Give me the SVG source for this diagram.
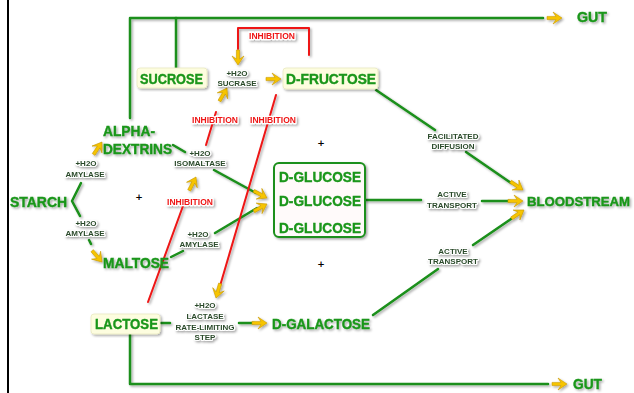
<svg xmlns="http://www.w3.org/2000/svg" xmlns:xlink="http://www.w3.org/1999/xlink" width="634" height="393" viewBox="0 0 634 393">
<style>
.g{fill:none;stroke:#1a8f1a;stroke-width:2.5;stroke-linecap:round;stroke-linejoin:round}
.r{fill:none;stroke:#ee1515;stroke-width:2;stroke-linecap:round;stroke-linejoin:round}
.big{font-family:"Liberation Sans",Arial,sans-serif;font-weight:bold;font-size:15px;fill:#1a961a;stroke:#1a961a;stroke-width:0.4}
.sm{font-family:"Liberation Sans",Arial,sans-serif;font-weight:bold;font-size:8px;fill:#2a4a2a;text-anchor:middle;stroke:#ffffff;stroke-width:2.2;paint-order:stroke;stroke-linejoin:round}
.inh{font-family:"Liberation Sans",Arial,sans-serif;font-weight:bold;font-size:8.5px;fill:#ee1515;text-anchor:middle;stroke:#ffffff;stroke-width:2.5;paint-order:stroke;stroke-linejoin:round}
.box{fill:#fdfddf;stroke:#e8e8c0;stroke-width:0.8}
.sh{filter:url(#shadow)}
.plus{font-family:"DejaVu Sans",sans-serif;font-weight:bold;font-size:9px;fill:#000;text-anchor:middle}
</style>
<defs>
<filter id="shadow" x="-20%" y="-20%" width="140%" height="140%">
<feDropShadow dx="1.5" dy="1.5" stdDeviation="0.8" flood-color="#000" flood-opacity="0.35"/>
</filter>
<path id="ya" d="M0,0 L-9,-6 L-6,-1.6 L-15,-1.6 L-15,1.6 L-6,1.6 L-9,6 Z" fill="#f6c400" stroke="#c99a00" stroke-width="0.6"/>
</defs>
<rect x="0" y="0" width="634" height="393" fill="#ffffff"/>
<line x1="8" y1="0" x2="8" y2="393" stroke="#000" stroke-width="2"/>

<g id="connectors" class="sh">
<polyline class="g" points="130,118 130,18 543,18"/>
<line class="g" x1="176" y1="18" x2="176" y2="68"/>
<polyline class="g" points="81,183 72,201 80,216"/>
<line class="g" x1="89" y1="240" x2="91" y2="244"/>
<line class="g" x1="173" y1="145" x2="185" y2="152"/>
<line class="g" x1="214" y1="170" x2="256" y2="193"/>
<line class="g" x1="171" y1="257" x2="183" y2="251"/>
<line class="g" x1="215" y1="233" x2="257" y2="208"/>
<line class="g" x1="365" y1="200" x2="421" y2="200"/>
<line class="g" x1="482" y1="201" x2="510" y2="201"/>
<line class="g" x1="376" y1="90" x2="435" y2="130"/>
<line class="g" x1="466" y1="152" x2="511" y2="183"/>
<line class="g" x1="373" y1="315" x2="438" y2="269"/>
<line class="g" x1="473" y1="245" x2="511" y2="219"/>
<line class="g" x1="161" y1="323" x2="170" y2="323"/>
<line class="g" x1="239" y1="323" x2="254" y2="323"/>
<polyline class="g" points="130,334 130,384 548,384"/>
<polyline class="r" points="238,49 238,28 309,28 309,55"/>
<line class="r" x1="148" y1="302" x2="183" y2="206"/>
<line class="r" x1="206" y1="145" x2="216" y2="112"/>
<line class="r" x1="276" y1="95" x2="220" y2="286"/>
<use href="#ya" transform="translate(562,18)"/>
<use href="#ya" transform="translate(567,384)"/>
<use href="#ya" transform="translate(238,65) rotate(90)"/>
<use href="#ya" transform="translate(281,79)"/>
<use href="#ya" transform="translate(102,142) rotate(-56)"/>
<use href="#ya" transform="translate(102,262) rotate(49)"/>
<use href="#ya" transform="translate(196,177) rotate(-63)"/>
<use href="#ya" transform="translate(227,88) rotate(-60)"/>
<use href="#ya" transform="translate(267,198) rotate(28)"/>
<use href="#ya" transform="translate(267,204) rotate(-29)"/>
<use href="#ya" transform="translate(216,298) rotate(106)"/>
<use href="#ya" transform="translate(267,323)"/>
<use href="#ya" transform="translate(523,201)"/>
<use href="#ya" transform="translate(523,190) rotate(34)"/>
<use href="#ya" transform="translate(524,210) rotate(-34)"/>
<text class="inh" x="272" y="39">INHIBITION</text>
<text class="inh" x="215" y="123">INHIBITION</text>
<text class="inh" x="273" y="123">INHIBITION</text>
<text class="inh" x="190" y="205">INHIBITION</text>
</g>

<g id="sucrose" class="sh">
<rect class="box" x="137" y="68" width="70" height="20" rx="3"/>
<text class="big" x="140" y="83.5" textLength="63" lengthAdjust="spacingAndGlyphs">SUCROSE</text>
</g>
<g id="d-fructose" class="sh">
<rect class="box" x="283" y="68" width="95" height="21" rx="3"/>
<text class="big" x="286" y="84" textLength="90" lengthAdjust="spacingAndGlyphs">D-FRUCTOSE</text>
</g>
<g id="alpha-dextrins" class="sh">
<text class="big" x="103" y="135.5" textLength="52" lengthAdjust="spacingAndGlyphs">ALPHA-</text>
<text class="big" x="103" y="153.5" textLength="69" lengthAdjust="spacingAndGlyphs">DEXTRINS</text>
</g>
<g id="starch" class="sh">
<text class="big" x="10" y="206.5" textLength="57" lengthAdjust="spacingAndGlyphs">STARCH</text>
</g>
<g id="maltose" class="sh">
<text class="big" x="103" y="267.5" textLength="66" lengthAdjust="spacingAndGlyphs">MALTOSE</text>
</g>
<g id="lactose" class="sh">
<rect class="box" x="91" y="314" width="69" height="20" rx="3"/>
<text class="big" x="95" y="329" textLength="63" lengthAdjust="spacingAndGlyphs">LACTOSE</text>
</g>
<g id="d-galactose" class="sh">
<text class="big" x="272" y="328.5" textLength="98" lengthAdjust="spacingAndGlyphs">D-GALACTOSE</text>
</g>
<g id="d-glucose" class="sh">
<rect x="274" y="163" width="91" height="74" rx="5" fill="#fffafa" stroke="#1a8f1a" stroke-width="2"/>
<text class="big" x="279" y="181.5" textLength="82" lengthAdjust="spacingAndGlyphs">D-GLUCOSE</text>
<text class="big" x="279" y="206" textLength="82" lengthAdjust="spacingAndGlyphs">D-GLUCOSE</text>
<text class="big" x="279" y="233" textLength="82" lengthAdjust="spacingAndGlyphs">D-GLUCOSE</text>
</g>
<g id="bloodstream" class="sh">
<text class="big" x="527" y="205.5" style="font-size:13.3px" textLength="103" lengthAdjust="spacingAndGlyphs">BLOODSTREAM</text>
</g>
<g id="gut-top" class="sh">
<text class="big" x="577" y="21.5" textLength="30" lengthAdjust="spacingAndGlyphs">GUT</text>
</g>
<g id="gut-bottom" class="sh">
<text class="big" x="573" y="389" textLength="29" lengthAdjust="spacingAndGlyphs">GUT</text>
</g>

<g id="sucrase" class="sh">
<text class="sm" x="237" y="75.5">+H2O</text>
<text class="sm" x="237" y="86">SUCRASE</text>
</g>
<g id="amylase-1" class="sh">
<text class="sm" x="86" y="166">+H2O</text>
<text class="sm" x="85" y="177">AMYLASE</text>
</g>
<g id="amylase-2" class="sh">
<text class="sm" x="86" y="226">+H2O</text>
<text class="sm" x="85" y="236">AMYLASE</text>
</g>
<g id="isomaltase" class="sh">
<text class="sm" x="200" y="156">+H2O</text>
<text class="sm" x="200" y="166">ISOMALTASE</text>
</g>
<g id="amylase-3" class="sh">
<text class="sm" x="198" y="237">+H2O</text>
<text class="sm" x="199" y="247">AMYLASE</text>
</g>
<g id="lactase" class="sh">
<text class="sm" x="205" y="308">+H2O</text>
<text class="sm" x="205" y="319">LACTASE</text>
<text class="sm" x="205" y="330">RATE-LIMITING</text>
<text class="sm" x="205" y="340">STEP</text>
</g>
<g id="facilitated-diffusion" class="sh">
<text class="sm" x="453" y="138.5">FACILITATED</text>
<text class="sm" x="453" y="149">DIFFUSION</text>
</g>
<g id="active-transport-1" class="sh">
<text class="sm" x="452" y="197">ACTIVE</text>
<text class="sm" x="452" y="208">TRANSPORT</text>
</g>
<g id="active-transport-2" class="sh">
<text class="sm" x="453" y="254">ACTIVE</text>
<text class="sm" x="453" y="264">TRANSPORT</text>
</g>
<g id="plus-signs">
<text class="plus" x="139" y="200">+</text>
<text class="plus" x="321" y="146">+</text>
<text class="plus" x="321" y="267">+</text>
</g>
</svg>
